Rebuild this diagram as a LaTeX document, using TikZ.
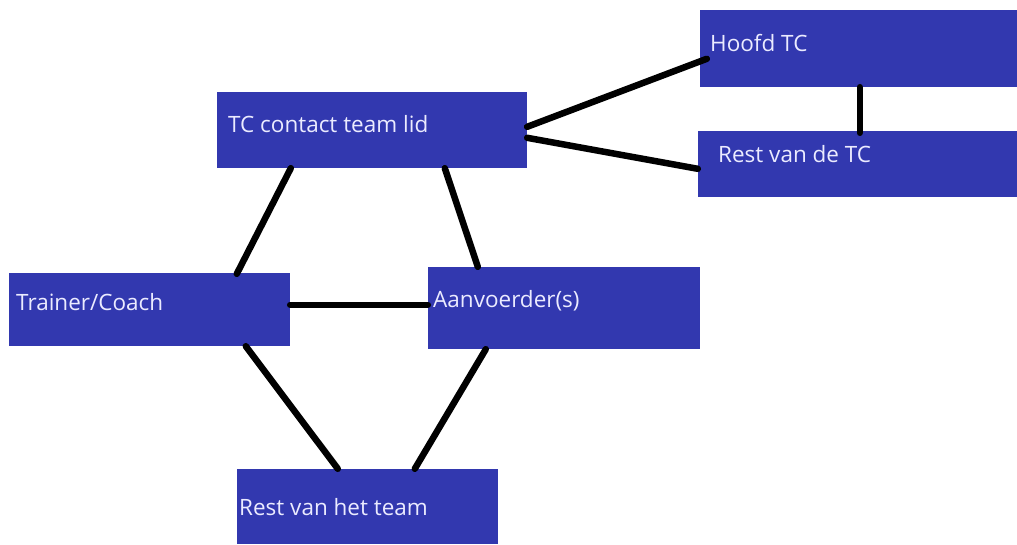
\documentclass[tikz,border=0pt]{standalone}
\usepackage{fontspec}
\setmainfont{Open Sans}
\definecolor{boxblue}{RGB}{50,56,175}
\definecolor{boxtext}{RGB}{235,235,255}
\begin{document}
\begin{tikzpicture}[x=1pt,y=-1pt,
  box/.style={fill=boxblue,draw=none,inner sep=0pt,rectangle},
  lbl/.style={anchor=base west,inner sep=0pt,text=boxtext,font=\fontsize{22.5}{27}\selectfont},
  conn/.style={line width=6.5pt,line cap=round,black}]
\useasboundingbox (0,0) rectangle (1017,544);
\node[box,minimum width=317pt,minimum height=77pt] (hoofd) at (858.5,48.5) {};
\node[box,minimum width=319pt,minimum height=66pt] (resttc) at (857.5,164) {};
\node[box,minimum width=310pt,minimum height=76pt] (tc) at (372,130) {};
\node[box,minimum width=281pt,minimum height=73pt] (trainer) at (149.5,309.5) {};
\node[box,minimum width=272pt,minimum height=82pt] (aanv) at (564,308) {};
\node[box,minimum width=261pt,minimum height=75pt] (rest) at (367.5,506.5) {};
\node[lbl] (hoofdl) at (710,51) {Hoofd TC};
\node[lbl] (resttcl) at (718,162) {Rest van de TC};
\node[lbl] (tcl) at (228,132) {TC contact team lid};
\node[lbl] (trainerl) at (16,310) {Trainer/Coach};
\node[lbl] (aanvl) at (433,307) {Aanvoerder(s)};
\node[lbl] (restl) at (239,515) {Rest van het team};
\draw[conn] ([yshift=-35pt]tc.north east) -- ([xshift=7pt,yshift=-49pt]hoofd.north west);
\draw[conn] ([yshift=-46pt]tc.north east) -- ([yshift=-38pt]resttc.north west);
\draw[conn] ([xshift=160pt]hoofd.south west) -- ([xshift=162pt,yshift=-2pt]resttc.north west);
\draw[conn] ([xshift=74pt]tc.south west) -- ([xshift=228pt,yshift=-1pt]trainer.north west);
\draw[conn] ([xshift=228pt]tc.south west) -- ([xshift=50pt]aanv.north west);
\draw[conn] ([yshift=-32pt]trainer.north east) -- ([yshift=-38pt]aanv.north west);
\draw[conn] ([xshift=237pt]trainer.south west) -- ([xshift=101pt]rest.north west);
\draw[conn] ([xshift=58pt]aanv.south west) -- ([xshift=178pt]rest.north west);
\end{tikzpicture}
\end{document}
